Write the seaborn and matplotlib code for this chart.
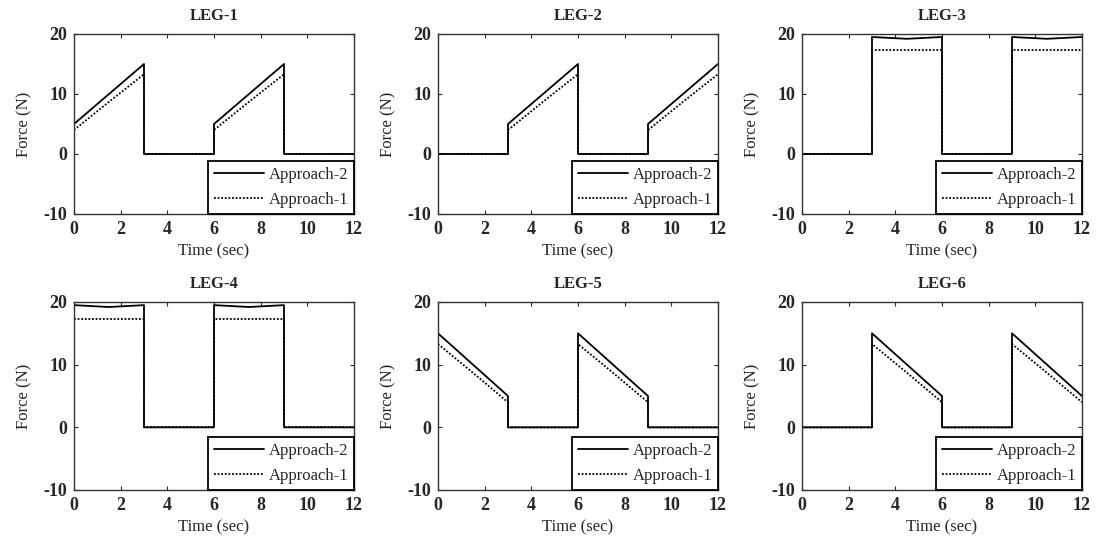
import matplotlib
matplotlib.use('Agg')
import matplotlib.pyplot as plt
import numpy as np
import pandas as pd
import seaborn as sns

# sample times: each switching instant appears twice (value before / after the jump)
time = [0, 1.5, 3, 3, 4.5, 6, 6, 7.5, 9, 9, 10.5, 12]

legs = ['LEG-1', 'LEG-2', 'LEG-3', 'LEG-4', 'LEG-5', 'LEG-6']

# Approach-2 (solid)
approach2 = {
    'LEG-1': [5, 10, 15, 0, 0, 0, 5, 10, 15, 0, 0, 0],
    'LEG-2': [0, 0, 0, 5, 10, 15, 0, 0, 0, 5, 10, 15],
    'LEG-3': [0, 0, 0, 19.5, 19.2, 19.5, 0, 0, 0, 19.5, 19.2, 19.5],
    'LEG-4': [19.5, 19.2, 19.5, 0, 0, 0, 19.5, 19.2, 19.5, 0, 0, 0],
    'LEG-5': [15, 10, 5, 0, 0, 0, 15, 10, 5, 0, 0, 0],
    'LEG-6': [0, 0, 0, 15, 10, 5, 0, 0, 0, 15, 10, 5],
}

# Approach-1 (dotted)
approach1 = {
    'LEG-1': [4, 8.7, 13.3, 0, 0, 0, 4, 8.7, 13.3, 0, 0, 0],
    'LEG-2': [0, 0, 0, 4, 8.7, 13.3, 0, 0, 0, 4, 8.7, 13.3],
    'LEG-3': [0, 0, 0, 17.3, 17.3, 17.3, 0, 0, 0, 17.3, 17.3, 17.3],
    'LEG-4': [17.3, 17.3, 17.3, 0, 0, 0, 17.3, 17.3, 17.3, 0, 0, 0],
    'LEG-5': [13.3, 8.7, 4, 0, 0, 0, 13.3, 8.7, 4, 0, 0, 0],
    'LEG-6': [0, 0, 0, 13.3, 8.7, 4, 0, 0, 0, 13.3, 8.7, 4],
}

x_ticks = [0, 2, 4, 6, 8, 10, 12]
y_ticks = [-10, 0, 10, 20]

sns.set_style('ticks')
plt.rcParams['font.family'] = ['Liberation Serif', 'DejaVu Serif']
plt.rcParams['axes.edgecolor'] = '#333333'
plt.rcParams['axes.unicode_minus'] = False

fig = plt.figure(figsize=(10.96, 5.48), dpi=100)
W, H = 1096, 548

# axes boxes in pixels: left, top, right, bottom
lefts = [74, 438, 802]
rows = [(34, 214), (302, 490)]

for i, leg in enumerate(legs):
    r, c = divmod(i, 3)
    top, bot = rows[r]
    left = lefts[c]
    ax = fig.add_axes([left / W, 1 - bot / H, 280 / W, (bot - top) / H])

    df = pd.concat([
        pd.DataFrame({'time': time, 'force': approach2[leg], 'approach': 'Approach-2'}),
        pd.DataFrame({'time': time, 'force': approach1[leg], 'approach': 'Approach-1'}),
    ], ignore_index=True)

    sns.lineplot(data=df, x='time', y='force', style='approach',
                 style_order=['Approach-2', 'Approach-1'],
                 dashes={'Approach-2': '', 'Approach-1': (1, 1)},
                 color='black', linewidth=1.3,
                 estimator=None, sort=False, ax=ax)

    ax.set_xlim(0, 12)
    ax.set_ylim(-10, 20)
    ax.set_xticks(x_ticks)
    ax.set_yticks(y_ticks)
    ax.tick_params(direction='in', top=True, right=True, length=3,
                   labelsize=13, pad=5)
    plt.setp(ax.get_xticklabels(), fontweight='bold')
    plt.setp(ax.get_yticklabels(), fontweight='bold')
    ax.set_xlabel('Time (sec)', fontsize=12, labelpad=4)
    ax.set_ylabel('Force (N)', fontsize=12, labelpad=8)
    ax.set_title(leg, fontsize=12, fontweight='bold', pad=10)
    for s in ax.spines.values():
        s.set_linewidth(1.0)

    leg_obj = ax.legend(loc='lower right', borderaxespad=0, fancybox=False,
                        frameon=True, edgecolor='black', fontsize=12,
                        handlelength=3.0, handletextpad=0.3,
                        labelspacing=0.55, borderpad=0.35)
    leg_obj.get_frame().set_linewidth(1.3)
    leg_obj.get_frame().set_alpha(1)

fig.savefig('out.png', dpi=100)
